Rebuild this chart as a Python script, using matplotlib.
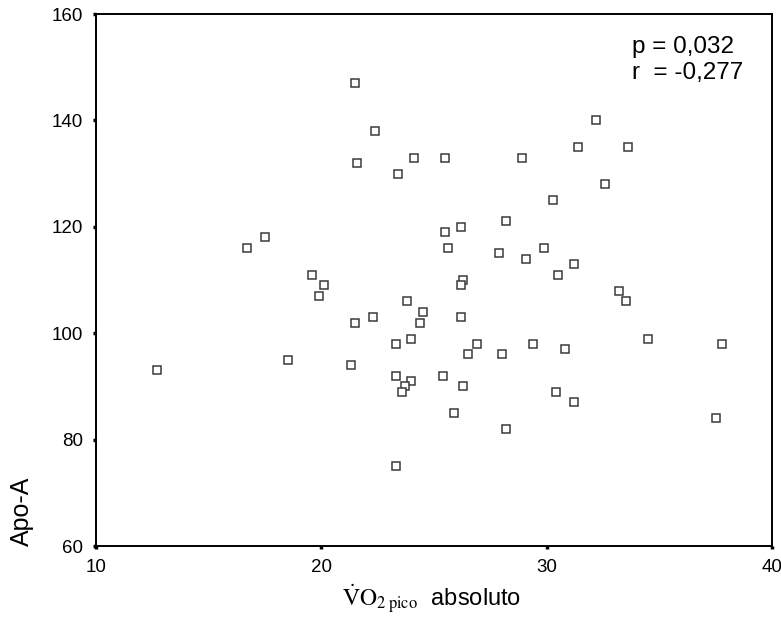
import matplotlib
matplotlib.use("Agg")
import matplotlib.pyplot as plt

plt.rcParams['font.family'] = ['Liberation Sans', 'DejaVu Sans']
plt.rcParams['mathtext.fontset'] = 'stix'

# VO2 pico absoluto vs Apo-A
vo2 = [21.5, 22.4, 21.6, 24.1, 23.4, 17.5, 16.7, 19.6, 20.1, 19.9,
       23.8, 24.5, 24.4, 21.5, 22.3, 24.0, 23.3, 12.7, 18.5, 21.3,
       23.3, 24.0, 23.7, 23.6, 23.3, 32.2, 31.4, 33.6, 25.5, 28.9,
       32.6, 30.3, 28.2, 26.2, 25.5, 25.6, 27.9, 29.1, 29.9, 31.2,
       30.5, 26.3, 26.2, 33.2, 33.5, 26.2, 26.9, 26.5, 28.0, 29.4,
       30.8, 34.5, 37.8, 25.4, 26.3, 30.4, 31.2, 25.9, 28.2, 37.5]
apoa = [147, 138, 132, 133, 130, 118, 116, 111, 109, 107,
        106, 104, 102, 102, 103, 99, 98, 93, 95, 94,
        92, 91, 90, 89, 75, 140, 135, 135, 133, 133,
        128, 125, 121, 120, 119, 116, 115, 114, 116, 113,
        111, 110, 109, 108, 106, 103, 98, 96, 96, 98,
        97, 99, 98, 92, 90, 89, 87, 85, 82, 84]

xticks = [10, 20, 30, 40]
yticks = [60, 80, 100, 120, 140, 160]
stats = "p = 0,032\nr  = -0,277"

fig = plt.figure(figsize=(7.81, 6.18), dpi=100)
ax = fig.add_axes([0.1229, 0.1165, 0.8656, 0.8608])

ax.plot(vo2, apoa, 's', ms=6.2, mfc='white', mec='#3a3a3a', mew=1.1, ls='none')

ax.set_xlim(10, 40)
ax.set_ylim(60, 160)
ax.set_xticks(xticks)
ax.set_yticks(yticks)
ax.tick_params(direction='out', length=2.5, width=2.5, labelsize=13.5)
ax.tick_params(axis='x', pad=7)
ax.tick_params(axis='y', pad=7)
for s in ax.spines.values():
    s.set_linewidth(1.4)

ax.text(0.793, 0.958, stats, transform=ax.transAxes, ha='left', va='top',
        fontsize=17.5, linespacing=1.22)

fig.text(0.028, 0.172, "Apo-A", rotation=90, ha='center', va='center', fontsize=18)
fig.text(0.553, 0.02, r'$\dot{\mathrm{V}}\mathrm{O}_{2\;\mathrm{pico}}$  absoluto',
         ha='center', va='baseline', fontsize=17)

fig.savefig("out.png", dpi=100)
